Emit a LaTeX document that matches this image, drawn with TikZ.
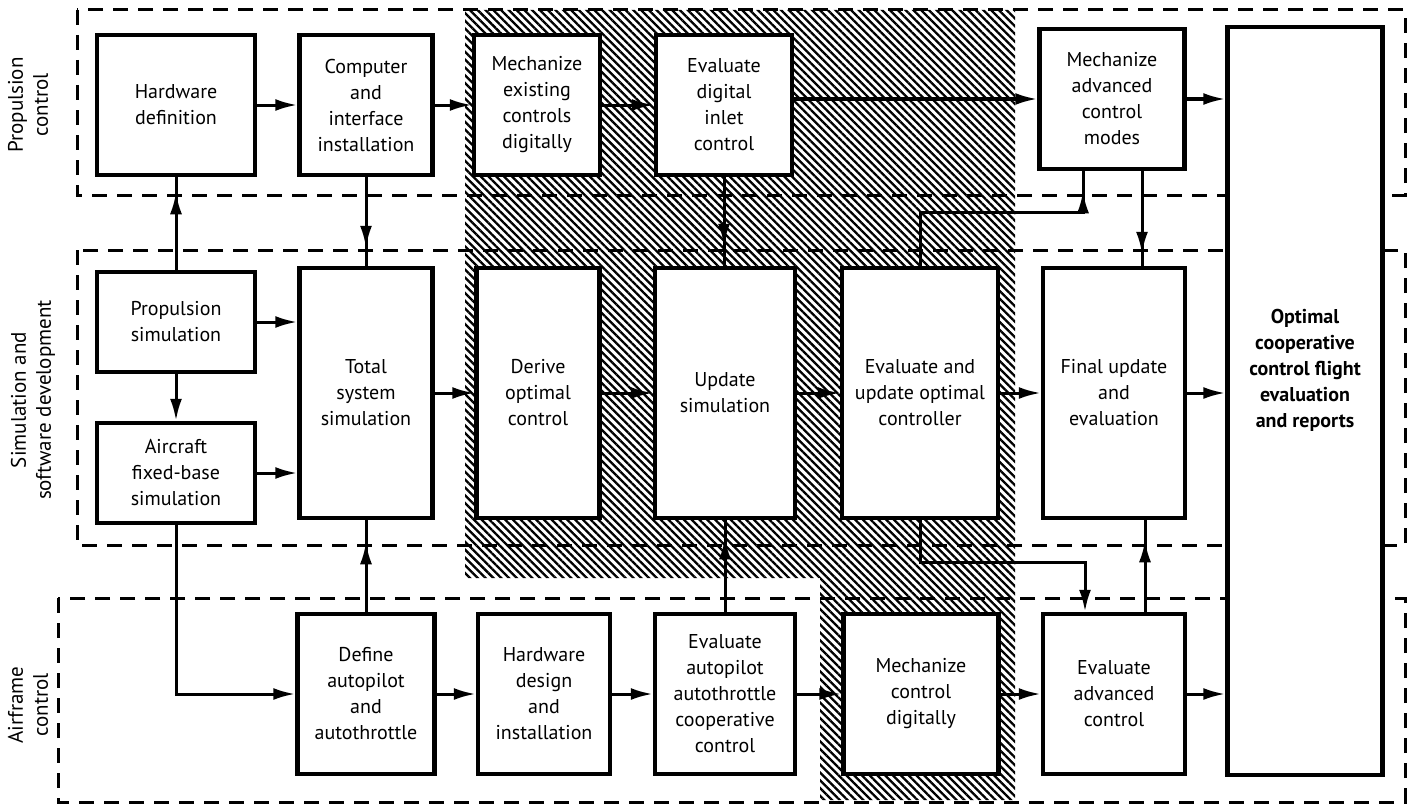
\documentclass[tikz,border=0pt]{standalone}
\usepackage{fontspec}
\setmainfont{PT Sans}
\usetikzlibrary{positioning,arrows.meta,patterns.meta,decorations.markings}

\begin{document}
\begin{tikzpicture}[
    x=1pt, y=-1pt,
    font=\fontsize{20}{26}\selectfont,
    blk/.style={draw, line width=4.5pt, fill=white, align=center, inner sep=2pt},
    grp/.style={draw, line width=3pt, dash pattern=on 15pt off 10pt},
    arr/.style={-{Latex[length=22pt,width=12pt]}, line width=3pt},
    midarr/.style={line width=3pt, decoration={markings,
        mark=at position #1 with {\arrow{Latex[length=22pt,width=12pt]}}},
        postaction={decorate}},
    side/.style={rotate=90, align=center, font=\fontsize{21}{25}\selectfont},
  ]
  \useasboundingbox (0,0) rectangle (1409,808);
  % hatched work area
  \fill[pattern={Lines[angle=-45,distance=5.5pt,line width=2.3pt]}]
    (465,10) -- (1015,10) -- (1015,800) -- (820,800) -- (820,578) -- (465,578) -- cycle;
  % groups
  \draw[grp] (77,10) rectangle (1405,195);
  \draw[grp] (77,250) rectangle (1405,545);
  \draw[grp] (58,598) rectangle (1405,802);
  \node[side] (lprop) at (28,105) {Propulsion\\control};
  \node[side] (lsim) at (33,400) {Simulation and\\software development};
  \node[side] (lair) at (28,705) {Airframe\\control};

  % propulsion control
  \node[blk, minimum width=158pt, minimum height=140pt] (hwdef) at (176,105) {Hardware\\definition};
  \node[blk, minimum width=133pt, minimum height=140pt] (comp) at (366,105) {Computer\\and\\interface\\installation};
  \node[blk, minimum width=126pt, minimum height=140pt] (mechex) at (537,105) {Mechanize\\existing\\controls\\digitally};
  \node[blk, minimum width=136pt, minimum height=140pt] (evalin) at (724,105) {Evaluate\\digital\\inlet\\control};
  \node[blk, minimum width=145pt, minimum height=140pt] (macm) at (1112,99) {Mechanize\\advanced\\control\\modes};
  \node[blk, minimum width=155pt, minimum height=748pt,
        label={[name=optlbl, align=center, font=\fontsize{20}{26}\selectfont\bfseries, yshift=31pt]center:Optimal\\cooperative\\control flight\\evaluation\\and reports}]
        (opt) at (1305,401) {};

  % simulation and software development
  \node[blk, minimum width=158pt, minimum height=100pt] (propsim) at (176,322) {Propulsion\\simulation};
  \node[blk, minimum width=158pt, minimum height=100pt] (aircraft) at (176,473) {Aircraft\\fixed-base\\simulation};
  \node[blk, minimum width=133pt, minimum height=250pt] (total) at (366,393) {Total\\system\\simulation};
  \node[blk, minimum width=123pt, minimum height=250pt] (derive) at (538,393) {Derive\\optimal\\control};
  \node[blk, minimum width=140pt, minimum height=250pt] (update) at (725,393) {Update\\simulation};
  \node[blk, minimum width=156pt, minimum height=250pt] (euoc) at (920,393) {Evaluate and\\update optimal\\controller};
  \node[blk, minimum width=142pt, minimum height=250pt] (final) at (1114,393) {Final update\\and\\evaluation};

  % airframe control
  \node[blk, minimum width=137pt, minimum height=160pt] (define) at (366,694) {Define\\autopilot\\and\\autothrottle};
  \node[blk, minimum width=132pt, minimum height=160pt] (hwdes) at (544,694) {Hardware\\design\\and\\installation};
  \node[blk, minimum width=140pt, minimum height=160pt] (evalap) at (725,694) {Evaluate\\autopilot\\autothrottle\\cooperative\\control};
  \node[blk, minimum width=155pt, minimum height=160pt] (mechcd) at (921,694) {Mechanize\\control\\digitally};
  \node[blk, minimum width=142pt, minimum height=160pt] (evaladv) at (1114,694) {Evaluate\\advanced\\control};

  % row flows
  \draw[arr] (hwdef) -- (comp);
  \draw[arr] (comp) -- (mechex);
  \draw[arr] (mechex) -- (evalin);
  \draw[arr] (evalin.east |- macm.west) -- (macm.west);
  \draw[arr] (macm.east) -- (macm.east -| opt.west);
  \draw[arr] (propsim.east) -- (propsim.east -| total.west);
  \draw[arr] (aircraft.east) -- (aircraft.east -| total.west);
  \draw[arr] (total) -- (derive);
  \draw[arr] (derive) -- (update);
  \draw[arr] (update) -- (euoc);
  \draw[arr] (euoc) -- (final);
  \draw[arr] (final.east) -- (final.east -| opt.west);
  \draw[arr] (define) -- (hwdes);
  \draw[arr] (hwdes) -- (evalap);
  \draw[arr] (evalap) -- (mechcd);
  \draw[arr] (mechcd) -- (evaladv);
  \draw[arr] (evaladv.east) -- (evaladv.east -| opt.west);

  % links between groups
  \draw[midarr=-15pt] (propsim.north) -- (hwdef.south);
  \draw[midarr=-18pt] (comp.south) -- (total.north);
  \draw[arr] (propsim.south) -- (aircraft.north);
  \draw[arr] (aircraft.south) |- (define.west);
  \draw[midarr=-22pt] (define.north) -- (total.south);
  \draw[midarr=-20pt] (evalin.south) -- (evalin.south |- update.north);
  \draw[midarr=-17pt] (evalap.north) -- (update.south);
  \draw[midarr=-20pt] (euoc.north) -- ++(0,-53) -| ([xshift=-29pt]macm.south);
  \draw[midarr=-12pt] ([xshift=30pt]macm.south) -- ([xshift=30pt]macm.south |- final.north);
  \draw[arr] (euoc.south) -- ++(0,42) -| ([xshift=-29pt]evaladv.north);
  \draw[midarr=-20pt] ([xshift=31pt]evaladv.north) -- ([xshift=31pt]evaladv.north |- final.south);
\end{tikzpicture}
\end{document}
